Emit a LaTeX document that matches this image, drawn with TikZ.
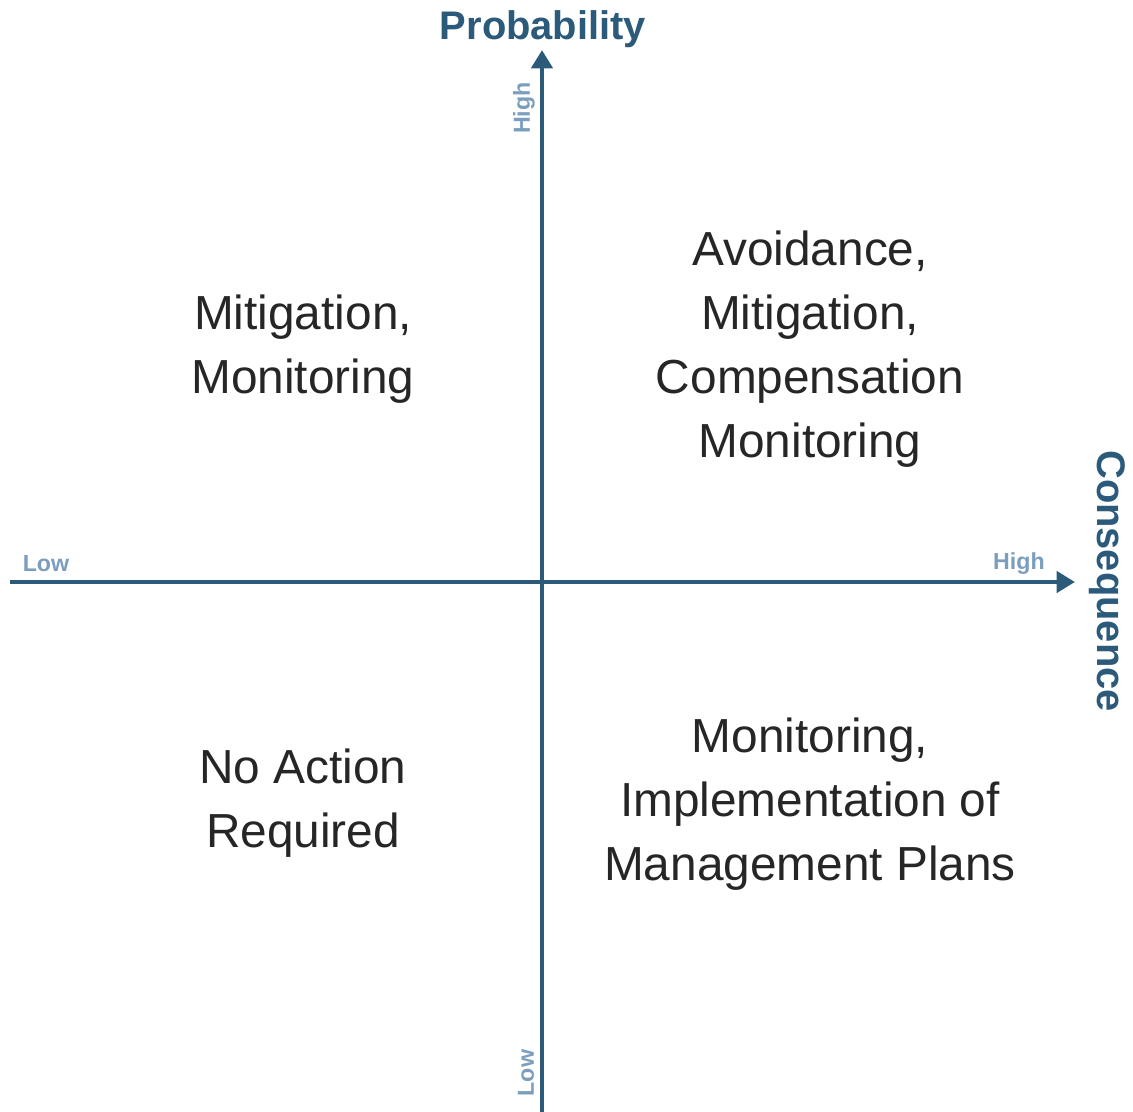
\documentclass[tikz,border=0pt]{standalone}
\usepackage{fontspec}
\setmainfont{Liberation Sans}
\usetikzlibrary{arrows.meta}
\definecolor{axisblue}{HTML}{2B5A7B}
\definecolor{tickblue}{HTML}{7B9DBE}

\tikzset{
  axis/.style={draw=axisblue, line width=2.6pt, -{Triangle[length=10.5pt,width=12pt]}},
  axistitle/.style={text=axisblue, font=\fontsize{22.7}{27}\selectfont\bfseries},
  endlabel/.style={text=tickblue, font=\fontsize{13.2}{16}\selectfont\bfseries, inner sep=0pt},
  action/.style={align=center, text=black!85, font=\fontsize{27.2}{36.3}\selectfont, inner sep=0pt}
}

\begin{document}
\begin{tikzpicture}[x=0.02cm, y=-0.02cm]
    \useasboundingbox (0, 0) rectangle (1133, 1112);

    % axes ends
    \coordinate (xlow) at (10, 582);
    \coordinate (xhigh) at (1075, 582);
    \coordinate (ylow) at (542, 1112);
    \coordinate (yhigh) at (542, 50);
    \draw[axis] (xlow) -- (xhigh);
    \draw[axis] (ylow) -- (yhigh);

    % axis titles
    \node[axistitle] (prob) at (543, 29) {Probability};
    \node[axistitle, rotate=-90] (cons) at (1107, 581) {Consequence};

    % low / high ends
    \node[endlabel] (xlowlbl) at (46, 564) {Low};
    \node[endlabel] (xhighlbl) at (1019, 564) {High};
    \node[endlabel, rotate=90] (yhighlbl) at (524, 108) {High};
    \node[endlabel, rotate=90] (ylowlbl) at (526, 1073) {Low};

    % quadrants
    \node[action] (tl) at (303, 349) {Mitigation,\\Monitoring};
    \node[action] (tr) at (810, 349) {Avoidance,\\Mitigation,\\Compensation\\Monitoring};
    \node[action] (bl) at (303, 803) {No Action\\Required};
    \node[action] (br) at (810, 804) {Monitoring,\\Implementation of\\Management Plans};
\end{tikzpicture}
\end{document}
